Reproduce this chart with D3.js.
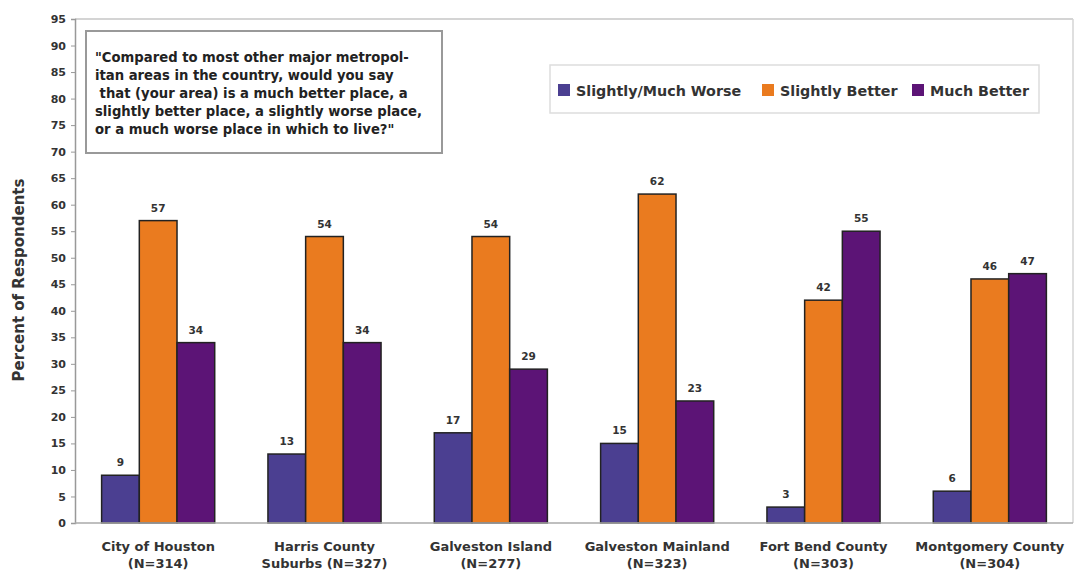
<!DOCTYPE html>
<html>
<head>
<meta charset="utf-8">
<script src="https://cdn.jsdelivr.net/npm/d3@7"></script>
<style>
  html, body { margin: 0; padding: 0; background: #fff; }
  svg { display: block; font-family: "DejaVu Sans", Verdana, sans-serif; }
</style>
</head>
<body>
<svg id="chart" width="1074" height="571"></svg>
<script>
// Survey areas (two-line labels)
const categories = ["City of Houston", "Harris County Suburbs", "Galveston Island", "Galveston Mainland", "Fort Bend County", "Montgomery County"];
const categoryLines = [
  ["City of Houston", "(N=314)"],
  ["Harris County", "Suburbs (N=327)"],
  ["Galveston Island", "(N=277)"],
  ["Galveston Mainland", "(N=323)"],
  ["Fort Bend County", "(N=303)"],
  ["Montgomery County", "(N=304)"]
];
const seriesNames = ["Slightly/Much Worse", "Slightly Better", "Much Better"];
const worse = [9, 13, 17, 15, 3, 6];
const slightlyBetter = [57, 54, 54, 62, 42, 46];
const muchBetter = [34, 34, 29, 23, 55, 47];
const yTicks = d3.range(0, 96, 5);
const colors = ["#4b3f91", "#ea7b1f", "#5c1476"];
const question = [
  "\"Compared to most other major metropol-",
  "itan areas in the country, would you say",
  " that (your area) is a much better place, a",
  "slightly better place, a slightly worse place,",
  "or a much worse place in which to live?\""
];

const seriesValues = [worse, slightlyBetter, muchBetter];
const FONT = "'DejaVu Sans', Verdana, sans-serif";

const svg = d3.select("#chart");
const plot = { left: 75, right: 1073, top: 19, bottom: 523 };

const x = d3.scaleBand().domain(categories).range([plot.left, plot.right]).paddingInner(0.32).paddingOuter(0.16);
const xs = d3.scaleBand().domain(seriesNames).range([0, x.bandwidth()]);
const y = d3.scaleLinear().domain([0, 95]).range([plot.bottom, plot.top]);

// frame: top and right edges
svg.append("line").attr("x1", plot.left).attr("x2", plot.right).attr("y1", plot.top).attr("y2", plot.top)
  .attr("stroke", "#d4d4d4").attr("stroke-width", 2);
svg.append("line").attr("x1", plot.right).attr("x2", plot.right).attr("y1", plot.top).attr("y2", plot.bottom)
  .attr("stroke", "#d4d4d4").attr("stroke-width", 1.5);

// y axis
const yAxis = svg.append("g").attr("transform", `translate(${plot.left},0)`)
  .call(d3.axisLeft(y).tickValues(yTicks).tickSize(4).tickPadding(5));
yAxis.select(".domain").attr("stroke", "#999").attr("stroke-width", 1.5);
yAxis.selectAll(".tick line").attr("stroke", "#999");
yAxis.selectAll(".tick text").attr("fill", "#333").attr("font-size", 11).attr("font-weight", "bold")
  .attr("font-family", FONT);

// y axis title
svg.append("text")
  .attr("transform", "translate(24,280) rotate(-90)")
  .attr("text-anchor", "middle")
  .attr("font-size", 15).attr("font-weight", "bold").attr("fill", "#333")
  .text("Percent of Respondents");

// bars
const groups = svg.append("g").selectAll("g").data(categories).join("g")
  .attr("transform", d => `translate(${x(d)},0)`);

groups.each(function(cat, i) {
  const g = d3.select(this);
  seriesNames.forEach((s, j) => {
    const v = seriesValues[j][i];
    g.append("rect")
      .attr("x", xs(s)).attr("width", xs.bandwidth())
      .attr("y", y(v)).attr("height", y(0) - y(v))
      .attr("fill", colors[j]).attr("stroke", "#222").attr("stroke-width", 1.5);
    g.append("text")
      .attr("x", xs(s) + xs.bandwidth() / 2).attr("y", y(v) - 9)
      .attr("text-anchor", "middle").attr("font-size", 10.5).attr("font-weight", "bold").attr("fill", "#333")
      .text(v);
  });
});

// baseline
svg.append("line").attr("x1", plot.left).attr("x2", plot.right).attr("y1", plot.bottom).attr("y2", plot.bottom)
  .attr("stroke", "#aaa").attr("stroke-width", 1.5);

// category labels
const xl = svg.append("g");
categories.forEach((c, i) => {
  const t = xl.append("text").attr("text-anchor", "middle").attr("font-size", 13).attr("font-weight", "bold").attr("fill", "#333");
  categoryLines[i].forEach((line, k) => {
    t.append("tspan").attr("x", x(c) + x.bandwidth() / 2).attr("y", 551 + k * 17).text(line);
  });
});

// question box
svg.append("rect").attr("x", 86).attr("y", 31).attr("width", 356).attr("height", 122)
  .attr("fill", "#fff").attr("stroke", "#999").attr("stroke-width", 2);
const q = svg.append("text").attr("font-size", 13.2).attr("font-weight", "bold").attr("fill", "#222");
question.forEach((line, k) => {
  q.append("tspan").attr("x", 95).attr("y", 62 + k * 18).attr("xml:space", "preserve").text(line);
});

// legend
svg.append("rect").attr("x", 550).attr("y", 65).attr("width", 489).attr("height", 48)
  .attr("fill", "#fff").attr("stroke", "#ddd").attr("stroke-width", 1.5);
const legendX = [558, 762, 912];
seriesNames.forEach((s, j) => {
  svg.append("rect").attr("x", legendX[j]).attr("y", 84).attr("width", 12).attr("height", 12)
    .attr("fill", colors[j]);
  svg.append("text").attr("x", legendX[j] + 18).attr("y", 96)
    .attr("font-size", 14.3).attr("font-weight", "bold").attr("fill", "#333").text(s);
});
</script>
</body>
</html>
